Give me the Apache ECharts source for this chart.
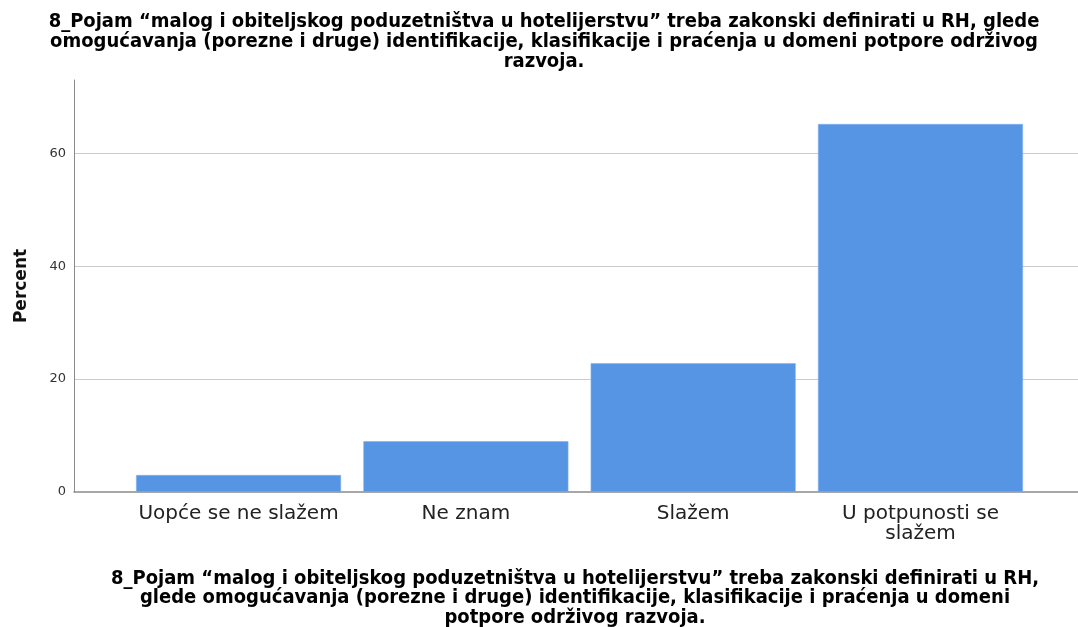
<!DOCTYPE html>
<html>
<head>
<meta charset="utf-8">
<script src="https://cdn.jsdelivr.net/npm/echarts@6/dist/echarts.min.js"></script>
<style>
  html, body { margin: 0; padding: 0; background: #fff; }
  #chart { width: 1078px; height: 627px; }
</style>
</head>
<body>
<div id="chart"></div>
<script>
// Response categories and their percentages
const categories = ['Uopće se ne slažem', 'Ne znam', 'Slažem', 'U potpunosti se\nslažem'];
const percents = [3.0, 9.0, 22.8, 65.2];
const yTicks = [0, 20, 40, 60];

const titleText = '8_Pojam “malog i obiteljskog poduzetništva u hotelijerstvu” treba zakonski definirati u RH, glede\n' +
  'omogućavanja (porezne i druge) identifikacije, klasifikacije i praćenja u domeni potpore održivog\n' +
  'razvoja.';
const axisTitleText = '8_Pojam “malog i obiteljskog poduzetništva u hotelijerstvu” treba zakonski definirati u RH,\n' +
  'glede omogućavanja (porezne i druge) identifikacije, klasifikacije i praćenja u domeni\n' +
  'potpore održivog razvoja.';

const condensed = '"DejaVu Sans Condensed", "Liberation Sans Narrow", sans-serif';

const chart = echarts.init(document.getElementById('chart'), null, { renderer: 'canvas' });
chart.setOption({
  animation: false,
  backgroundColor: '#ffffff',
  title: [
    {
      text: titleText,
      left: 539, top: 7, textAlign: 'center',
      textStyle: { fontFamily: condensed, fontWeight: 'bold', fontSize: 20, lineHeight: 20, color: '#000' }
    },
    {
      text: axisTitleText,
      left: 570, top: 564, textAlign: 'center',
      textStyle: { fontFamily: condensed, fontWeight: 'bold', fontSize: 20, lineHeight: 19.5, color: '#000' }
    }
  ],
  grid: { left: 74, right: 0, top: 80, bottom: 135, containLabel: false },
  xAxis: {
    type: 'value',
    min: -0.724, max: 3.693,
    splitLine: { show: false },
    axisTick: { show: false },
    axisLine: { show: true, lineStyle: { color: '#8a8a8a', width: 1.5 } },
    axisLabel: {
      customValues: categories.map((_, i) => i),
      formatter: v => categories[Math.round(v)] || '',
      fontFamily: '"DejaVu Sans", sans-serif',
      fontSize: 20, lineHeight: 20, color: '#222',
      margin: 12
    }
  },
  yAxis: {
    type: 'value',
    min: 0, max: 73, interval: 20,
    name: 'Percent',
    nameLocation: 'middle',
    nameGap: 44,
    nameRotate: 90,
    nameTextStyle: { fontFamily: '"DejaVu Sans", sans-serif', fontWeight: 'bold', fontSize: 17, color: '#111' },
    axisLine: { show: true, onZero: false, lineStyle: { color: '#8a8a8a', width: 1 } },
    axisTick: { show: false },
    axisLabel: {
      customValues: yTicks,
      fontFamily: '"DejaVu Sans", sans-serif',
      fontSize: 13, color: '#333', margin: 8
    },
    splitLine: { show: true, showMinLine: false, showMaxLine: false, lineStyle: { color: '#cccccc', width: 1.2 } }
  },
  series: [{
    type: 'bar',
    barWidth: 205,
    data: percents.map((p, i) => [i, p]),
    itemStyle: { color: '#5595e4', borderColor: '#7fb0ee', borderWidth: 0.6 }
  }]
});
</script>
</body>
</html>
